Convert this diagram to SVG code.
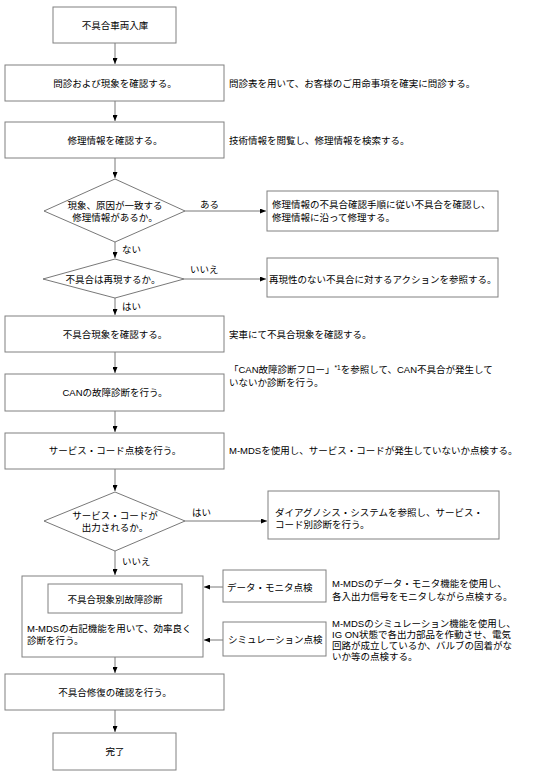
<svg xmlns="http://www.w3.org/2000/svg" width="558" height="774" viewBox="0 0 558 774">
<style>
text{font-family:"Liberation Sans","Noto Sans CJK JP",sans-serif;font-size:9.5px;fill:#000;dominant-baseline:central}
.c{text-anchor:middle}
.box{fill:#fff;stroke:#808080;stroke-width:1}
.dia{fill:#fff;stroke:#555;stroke-width:0.8}
.ln{stroke:#555;stroke-width:0.8;fill:none}
.sup{font-size:6.5px}
</style>
<defs>
<marker id="ah" markerWidth="6" markerHeight="5" refX="6" refY="2.5" orient="auto" markerUnits="userSpaceOnUse">
<path d="M0,0 L6,2.5 L0,5 Z" fill="#000"/>
</marker>
</defs>
<rect width="558" height="774" fill="#fff"/>
<g id="connectors">
<line class="ln" x1="115" y1="43" x2="115" y2="64" marker-end="url(#ah)"/>
<line class="ln" x1="115" y1="101" x2="115" y2="121" marker-end="url(#ah)"/>
<line class="ln" x1="115" y1="158" x2="115" y2="178" marker-end="url(#ah)"/>
<line class="ln" x1="185" y1="211" x2="266" y2="211" marker-end="url(#ah)"/>
<line class="ln" x1="115" y1="242" x2="115" y2="258" marker-end="url(#ah)"/>
<line class="ln" x1="184" y1="279" x2="266" y2="279" marker-end="url(#ah)"/>
<line class="ln" x1="115" y1="298" x2="115" y2="315" marker-end="url(#ah)"/>
<line class="ln" x1="115" y1="352" x2="115" y2="373" marker-end="url(#ah)"/>
<line class="ln" x1="115" y1="411" x2="115" y2="432" marker-end="url(#ah)"/>
<line class="ln" x1="115" y1="469" x2="115" y2="491" marker-end="url(#ah)"/>
<line class="ln" x1="185" y1="521" x2="267" y2="521" marker-end="url(#ah)"/>
<line class="ln" x1="115" y1="551" x2="115" y2="575" marker-end="url(#ah)"/>
<line class="ln" x1="223" y1="587" x2="204" y2="587" marker-end="url(#ah)"/>
<line class="ln" x1="223" y1="640" x2="204" y2="640" marker-end="url(#ah)"/>
<line class="ln" x1="115" y1="657" x2="115" y2="673" marker-end="url(#ah)"/>
<line class="ln" x1="115" y1="710" x2="115" y2="732" marker-end="url(#ah)"/>
<text x="200" y="204">ある</text>
<text x="122" y="249">ない</text>
<text x="190" y="269">いいえ</text>
<text x="122" y="306">はい</text>
<text x="192" y="512">はい</text>
<text x="122" y="561">いいえ</text>
</g>
<g id="n1"><rect class="box" x="53" y="7" width="123" height="36"/><text class="c" x="115" y="25">不具合車両入庫</text></g>
<g id="n2"><rect class="box" x="5" y="65" width="219" height="36"/><text class="c" x="115" y="83">問診および現象を確認する。</text><text x="229" y="83">問診表を用いて、お客様のご用命事項を確実に問診する。</text></g>
<g id="n3"><rect class="box" x="5" y="122" width="219" height="36"/><text class="c" x="115" y="140">修理情報を確認する。</text><text x="229" y="140">技術情報を閲覧し、修理情報を検索する。</text></g>
<g id="d1"><polygon class="dia" points="115,179 185,211 115,242 44,211"/><text class="c" x="115" y="205">現象、原因が一致する</text><text class="c" x="115" y="217">修理情報があるか。</text></g>
<g id="r1"><rect class="box" x="267" y="191" width="231" height="40"/><text x="272" y="204">修理情報の不具合確認手順に従い不具合を確認し、</text><text x="272" y="217">修理情報に沿って修理する。</text></g>
<g id="d2"><polygon class="dia" points="115,259 184,279 115,298 43,279"/><text class="c" x="113" y="279">不具合は再現するか。</text></g>
<g id="r2"><rect class="box" x="267" y="258" width="231" height="39"/><text x="269" y="279">再現性のない不具合に対するアクションを参照する。</text></g>
<g id="n4"><rect class="box" x="5" y="316" width="219" height="36"/><text class="c" x="115" y="334">不具合現象を確認する。</text><text x="229" y="334">実車にて不具合現象を確認する。</text></g>
<g id="n5"><rect class="box" x="5" y="374" width="219" height="37"/><text class="c" x="115" y="392">CANの故障診断を行う。</text><text x="229" y="369">「CAN故障診断フロー」<tspan class="sup" dy="-2">*1</tspan><tspan dy="2">を参照して、CAN不具合が発生して</tspan></text><text x="229" y="382">いないか診断を行う。</text></g>
<g id="n6"><rect class="box" x="5" y="433" width="219" height="36"/><text class="c" x="115" y="450">サービス・コード点検を行う。</text><text x="229" y="450">M-MDSを使用し、サービス・コードが発生していないか点検する。</text></g>
<g id="d3"><polygon class="dia" points="115,492 185,521 115,551 44,521"/><text class="c" x="115" y="515">サービス・コードが</text><text class="c" x="115" y="527">出力されるか。</text></g>
<g id="r3"><rect class="box" x="268" y="491" width="231" height="48"/><text x="275" y="512">ダイアグノシス・システムを参照し、サービス・</text><text x="275" y="524">コード別診断を行う。</text></g>
<g id="n7"><rect class="box" x="22" y="576" width="181" height="81"/><rect class="box" x="48" y="584" width="134" height="29"/><text class="c" x="115" y="599">不具合現象別故障診断</text><text x="27" y="628">M-MDSの右記機能を用いて、効率良く</text><text x="27" y="640">診断を行う。</text></g>
<g id="m1"><rect class="box" x="223" y="570" width="103" height="32"/><text x="227" y="587">データ・モニタ点検</text><text x="332" y="583">M-MDSのデータ・モニタ機能を使用し、</text><text x="332" y="596">各入出力信号をモニタしながら点検する。</text></g>
<g id="m2"><rect class="box" x="223" y="622" width="103" height="34"/><text x="228" y="639">シミュレーション点検</text><text x="332" y="623">M-MDSのシミュレーション機能を使用し、</text><text x="332" y="634">IG ON状態で各出力部品を作動させ、電気</text><text x="332" y="645">回路が成立しているか、バルブの固着がな</text><text x="332" y="656">いか等の点検する。</text></g>
<g id="n8"><rect class="box" x="5" y="674" width="219" height="36"/><text class="c" x="115" y="692">不具合修復の確認を行う。</text></g>
<g id="n9"><rect class="box" x="53" y="733" width="123" height="37"/><text class="c" x="115" y="751">完了</text></g>
</svg>
